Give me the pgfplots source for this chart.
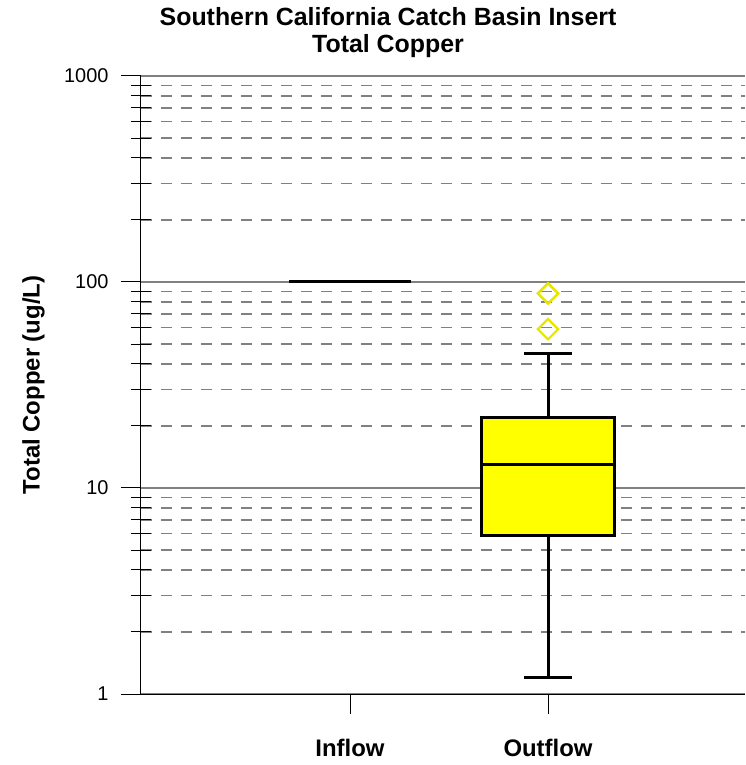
\documentclass[border=0pt]{standalone}
\usepackage{pgfplots}
\pgfplotsset{compat=1.18}
\usepackage{fontspec}
\setmainfont{Liberation Sans}
\definecolor{gridgray}{RGB}{128,128,128}
\definecolor{boxyellow}{RGB}{255,255,0}
\definecolor{outyellow}{RGB}{230,230,0}
\begin{document}
\begin{tikzpicture}
\useasboundingbox (-141bp,-71bp) rectangle (605bp,694bp);
\begin{axis}[
  at={(0,0)}, anchor=south west,
  scale only axis, width=604bp, height=618bp,
  ymode=log, ymin=1, ymax=1000,
  xmin=-0.0556, xmax=2.995,
  axis x line=bottom, axis y line=left,
  axis line style={-, black, line width=1bp},
  ytick={1,10,100,1000},
  yticklabels={1,10,100,1000},
  minor ytick={2,3,4,5,6,7,8,9,20,30,40,50,60,70,80,90,200,300,400,500,600,700,800,900},
  xtick={1,2},
  xticklabels={Inflow,Outflow},
  tick align=outside,
  major tick length=20bp,
  minor tick length=20bp,
  minor tick style={xshift=10bp},
  tick style={black, line width=1bp},
  ymajorgrids, yminorgrids,
  major grid style={gridgray, line width=1.2bp},
  minor grid style={gridgray, line width=1.2bp, dash pattern=on 11bp off 9bp},
  yticklabel style={font=\fontsize{20}{24}\selectfont, xshift=-9bp},
  xticklabel style={font=\bfseries\fontsize{24}{28}\selectfont, yshift=-22bp},
  /pgf/number format/assume math mode=true,
  ylabel={Total Copper (ug/L)},
  ylabel style={font=\bfseries\fontsize{24}{28}\selectfont, at={(axis description cs:-0.159,0.5)}, anchor=south, inner sep=0pt},
  title={Southern California Catch Basin Insert\\Total Copper},
  title style={font=\bfseries\fontsize{25}{27}\selectfont, align=center, at={(axis description cs:0.409,1)}, anchor=south, inner sep=0pt, yshift=12bp},
  clip=false,
]
% Inflow: all statistics equal 100 (collapsed box)
\addplot[black, line width=3bp] coordinates {(0.692,100) (1.308,100)};
% Outflow box (Q1 = 5.9, Q3 = 22)
\addplot[fill=boxyellow, draw=black, line width=3bp] coordinates {(1.662,5.9) (2.338,5.9) (2.338,22) (1.662,22)} -- cycle;
% median
\addplot[black, line width=3bp] coordinates {(1.662,13) (2.338,13)};
% whiskers
\addplot[black, line width=3bp] coordinates {(2,22) (2,45)};
\addplot[black, line width=3bp] coordinates {(1.879,45) (2.121,45)};
\addplot[black, line width=3bp] coordinates {(2,5.9) (2,1.2)};
\addplot[black, line width=3bp] coordinates {(1.879,1.2) (2.121,1.2)};
% outliers
\addplot[only marks, mark=square, mark size=7.2bp, mark options={draw=outyellow, fill=white, rotate=45, line width=2.2bp, solid}]
  coordinates {(2,88) (2,88) (2,59)};
\end{axis}
\end{tikzpicture}
\end{document}
